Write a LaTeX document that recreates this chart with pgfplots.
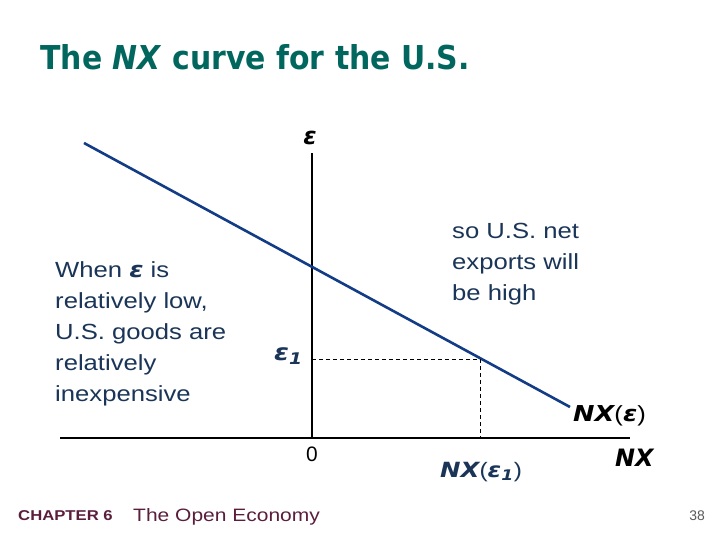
\documentclass[border=0pt]{standalone}
\usepackage{fontspec}
\setmainfont{Liberation Sans}
\newfontfamily\vfont{DejaVu Sans}
\usepackage{pgfplots}
\pgfplotsset{compat=1.18}
\definecolor{titlecol}{HTML}{00665E}
\definecolor{bodycol}{HTML}{1A3558}
\definecolor{curvecol}{HTML}{123C86}
\definecolor{footcol}{HTML}{5A1E3C}
\newcommand{\bi}[1]{{\vfont\bfseries\itshape #1}}
\begin{document}
\begin{tikzpicture}[wide/.style={xscale=1.17}]
\useasboundingbox (0,0) rectangle (720bp,540bp);
\fill[white] (0,0) rectangle (720bp,540bp);
\begin{axis}[
  at={(60bp,102bp)}, anchor=south west,
  scale only axis, width=570bp, height=285bp,
  xmin=-252, xmax=318, ymin=0, ymax=285,
  axis lines=middle,
  axis line style={-, line width=1.2bp},
  xtick=\empty, ytick=\empty,
  clip=false,
]
% NX curve
\addplot[color=curvecol, line width=2.6bp] coordinates {(-228,295) (258,31)};
% epsilon_1 and NX(epsilon_1)
\addplot[dashed, dash pattern=on 4bp off 3bp, line width=0.7bp] coordinates {(0,79) (168,79) (168,0)};

% title
\node[anchor=west, yscale=1.1, text=titlecol, font=\vfont\bfseries\fontsize{30}{36}\selectfont]
  at (axis cs:-275,381) {The \textit{NX} curve for the U.S.};

% axis labels
\node[font=\fontsize{24}{28}\selectfont] at (axis cs:-2,300) {\bi{ε}};
\node[anchor=base east, wide, inner sep=0pt, text=bodycol, font=\fontsize{23}{26}\selectfont] at (axis cs:-9,77) {\bi{ε\textsubscript{1}}};
\node[anchor=base, font=\fontsize{21}{26}\selectfont] at (axis cs:0,-24) {0};
\node[anchor=base west, wide, inner sep=0pt, font=\fontsize{22}{26}\selectfont] at (axis cs:261,16) {\bi{NX}(\bi{ε})};
\node[anchor=base west, inner sep=0pt, font=\fontsize{24}{28}\selectfont] at (axis cs:303,-29) {\bi{NX}};
\node[anchor=base west, wide, inner sep=0pt, text=bodycol, font=\fontsize{21}{26}\selectfont] at (axis cs:128,-39) {\bi{NX}(\bi{ε\textsubscript{1}})};

% left text
\begin{scope}[every node/.style={anchor=base west, wide, text=bodycol, inner sep=0pt, font=\fontsize{22}{26}\selectfont}]
\node at (axis cs:-257,160) {When \bi{ε} is};
\node at (axis cs:-257,129) {relatively low,};
\node at (axis cs:-257,98) {U.S. goods are};
\node at (axis cs:-257,67) {relatively};
\node at (axis cs:-257,36) {inexpensive};
% right text
\node at (axis cs:140,199) {so U.S. net};
\node at (axis cs:140,168) {exports will};
\node at (axis cs:140,137) {be high};
\end{scope}

% footer
\node[anchor=base west, wide, inner sep=0pt, text=footcol, font=\bfseries\fontsize{14.3}{16}\selectfont] at (axis cs:-294,-82) {CHAPTER 6};
\node[anchor=base west, wide, inner sep=0pt, text=footcol, font=\fontsize{18}{22}\selectfont] at (axis cs:-179,-83) {The Open Economy};
\node[anchor=base east, inner sep=0pt, text=black!65, font=\fontsize{14}{16}\selectfont] at (axis cs:393,-82) {38};
\end{axis}
\end{tikzpicture}
\end{document}
